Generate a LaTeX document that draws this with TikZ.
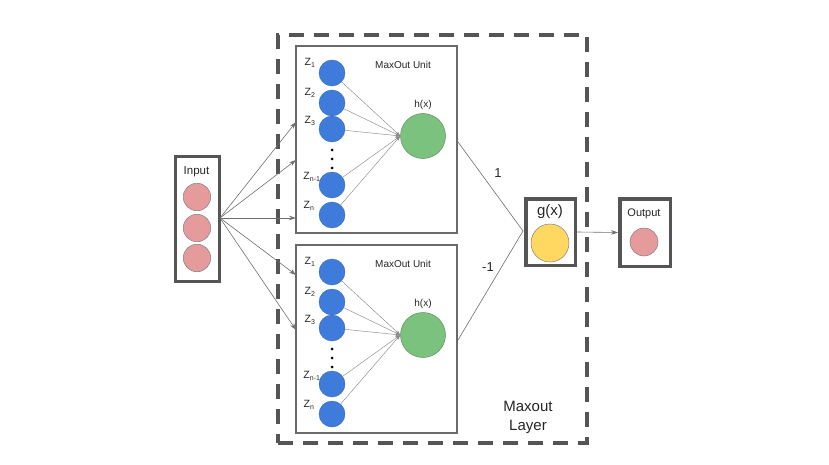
\documentclass[tikz,border=0pt]{standalone}
\usepackage{fontspec}
\setmainfont{Liberation Sans}
\usetikzlibrary{arrows.meta}
\definecolor{boxgray}{HTML}{555555}
\definecolor{unitgray}{HTML}{6A6A6A}
\definecolor{pinkfill}{HTML}{E59A9B}
\definecolor{bluefill}{HTML}{3F7BDA}
\definecolor{greenfill}{HTML}{7BC27E}
\definecolor{yellowfill}{HTML}{FFD862}
\definecolor{linegray}{HTML}{6E6E6E}
\begin{document}
\begin{tikzpicture}[x=1pt,y=-1pt,
  thickbox/.style={draw=boxgray, line width=3.5pt, rectangle, inner sep=0pt},
  unitbox/.style={draw=unitgray, line width=1.2pt, rectangle, inner sep=0pt},
  layerbox/.style={draw=boxgray, line width=3.5pt, dash pattern=on 15pt off 10pt, rectangle, inner sep=0pt},
  pinkc/.style={circle, fill=pinkfill, draw=gray, line width=0.5pt, minimum size=27.5pt, inner sep=0pt},
  bluec/.style={circle, fill=bluefill, draw=bluefill!85!black, line width=0.4pt, minimum size=26pt, inner sep=0pt},
  greenc/.style={circle, fill=greenfill, draw=greenfill!75!black, line width=0.5pt, minimum size=45pt, inner sep=0pt},
  yellowc/.style={circle, fill=yellowfill, draw=gray, line width=0.5pt, minimum size=38pt, inner sep=0pt},
  dotc/.style={circle, fill=black, minimum size=3pt, inner sep=0pt},
  lbl/.style={inner sep=0pt, text=black!85},
  zlbl/.style={inner sep=0pt, text=black!85, font=\fontsize{10.5}{11}\selectfont},
  conn/.style={draw=linegray, line width=0.6pt, -{Stealth[length=7pt,width=4.5pt]}},
  thin conn/.style={draw=linegray!80, line width=0.45pt, -{Stealth[length=5pt,width=3.5pt]}},
  plain conn/.style={draw=linegray, line width=0.6pt}
]
\useasboundingbox (0,0) rectangle (829,465);

% Maxout layer (dashed)
\node[layerbox, minimum width=309pt, minimum height=408pt] (layer) at (432.5,239) {};
\node[lbl, font=\fontsize{15}{19}\selectfont, align=center] (layertxt) at (528,417) {Maxout\\Layer};

% Input
\node[thickbox, minimum width=44pt, minimum height=125pt] (inbox) at (197.5,219) {};
\node[lbl, font=\fontsize{11.5}{13}\selectfont] (intxt) at (196.5,172) {Input};
\node[pinkc] (in1) at (197,197) {};
\node[pinkc] (in2) at (197,228) {};
\node[pinkc] (in3) at (197,258) {};

% Maxout units
\node[unitbox, minimum width=161pt, minimum height=187pt] (ua) at (376.5,139.5) {};
\node[unitbox, minimum width=161pt, minimum height=188pt] (ub) at (376.5,339) {};

\foreach \u/\dy in {a/0, b/199} {
  \node[lbl, font=\fontsize{10}{11}\selectfont] (mt\u) at (403,65+\dy) {MaxOut Unit};
  \node[lbl, font=\fontsize{10}{11}\selectfont] (ht\u) at (423,105+\dy) {h(x)};
  \node[greenc] (h\u) at (423,136+\dy) {};
  \node[bluec] (z1\u) at (332,73+\dy) {};
  \node[bluec] (z2\u) at (332,103+\dy) {};
  \node[bluec] (z3\u) at (332,129+\dy) {};
  \node[bluec] (z4\u) at (332,185+\dy) {};
  \node[bluec] (z5\u) at (332,215+\dy) {};
  \node[dotc] (d1\u) at (332,150+\dy) {};
  \node[dotc] (d2\u) at (332,159+\dy) {};
  \node[dotc] (d3\u) at (332,168+\dy) {};
  \node[zlbl] (l1\u) at (310,63+\dy) {Z\textsubscript{\scriptsize 1}};
  \node[zlbl] (l2\u) at (310,93+\dy) {Z\textsubscript{\scriptsize 2}};
  \node[zlbl] (l3\u) at (310,121+\dy) {Z\textsubscript{\scriptsize 3}};
  \node[zlbl] (l4\u) at (312,177+\dy) {Z\textsubscript{\scriptsize n-1}};
  \node[zlbl] (l5\u) at (309,206+\dy) {Z\textsubscript{\scriptsize n}};
  \foreach \k in {1,...,5} {
    \draw[thin conn] (z\k\u) -- (h\u.west);
  }
}

% g(x)
\node[thickbox, minimum width=49.5pt, minimum height=66.5pt] (gbox) at (550.5,232) {};
\node[lbl, font=\fontsize{15}{18}\selectfont] (gtxt) at (550,212) {g(x)};
\node[yellowc] (g) at (550,243) {};

% Output
\node[thickbox, minimum width=50.5pt, minimum height=67.5pt] (obox) at (645,232.5) {};
\node[lbl, font=\fontsize{11}{12}\selectfont] (otxt) at (644,214) {Output};
\node[pinkc, minimum size=28pt] (out) at (644,242) {};

% Input arrows
\coordinate (src) at (220,218);
\coordinate (t1) at (296,122);
\coordinate (t2) at (296,160);
\coordinate (t3) at (296,218);
\coordinate (t4) at (296,275);
\coordinate (t5) at (296,330);
\foreach \k in {1,...,5} { \draw[conn] (src) -- (t\k); }

% units to g(x)
\coordinate (gin) at (523,231);
\coordinate (uaout) at (458,142);
\coordinate (ubout) at (458,340);
\draw[plain conn] (uaout) -- (gin);
\draw[plain conn] (ubout) -- (gin);
\node[lbl, font=\fontsize{13}{15}\selectfont] (w1) at (498,173) {1};
\node[lbl, font=\fontsize{13}{15}\selectfont] (w2) at (488,267) {-1};

% g to output
\draw[conn] (gbox.east) -- (obox.west);
\end{tikzpicture}
\end{document}
